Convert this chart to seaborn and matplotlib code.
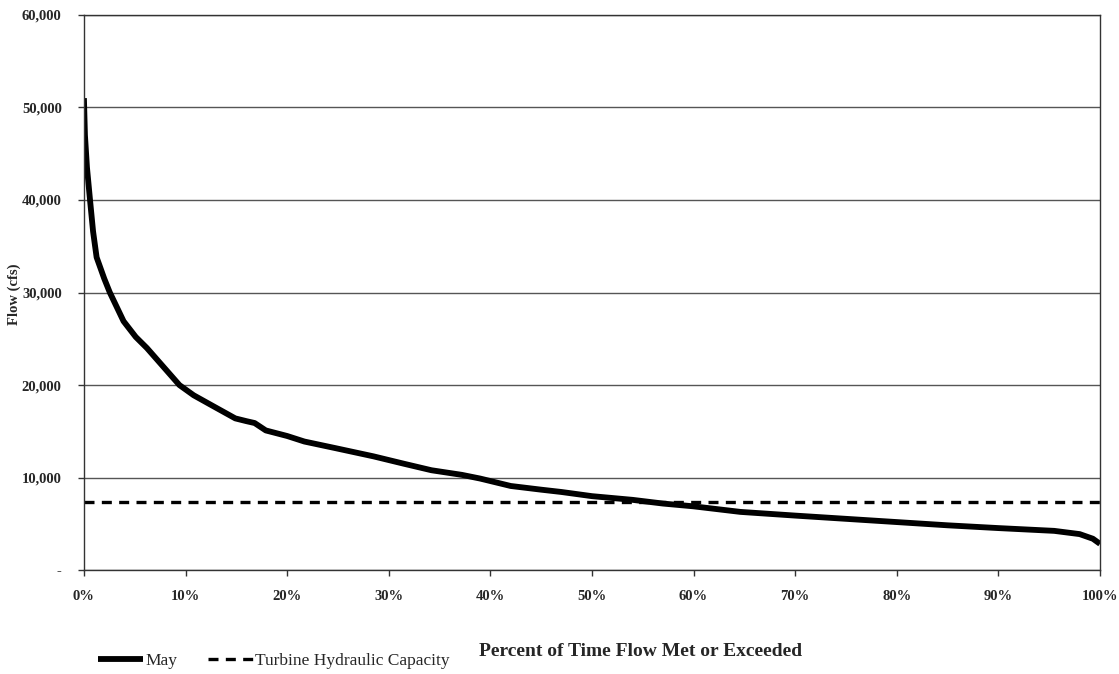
import matplotlib
matplotlib.use("Agg")
import matplotlib.pyplot as plt
import seaborn as sns
import pandas as pd

# ---- data ----
pct_exceeded = [0, 0.1, 0.3, 0.6, 0.9, 1.25, 2.0, 2.55, 3.9, 5.1, 6.2, 7.4, 9.4,
                10.8, 12.6, 14.9, 16.0, 16.8, 17.9, 20.0, 21.7, 24.7, 28.5, 31.5,
                34.2, 37.2, 39.0, 42.0, 45.0, 47.0, 50.0, 54.0, 57.0, 60.0, 64.6,
                70.0, 75.0, 80.0, 85.0, 90.0, 95.5, 98.0, 99.3, 100.0]
may_flow = [51000, 47000, 43500, 40000, 36600, 33800, 31500, 30000, 26900, 25200,
            24000, 22500, 20000, 18900, 17800, 16400, 16100, 15900, 15100, 14500,
            13900, 13200, 12300, 11500, 10800, 10300, 9900, 9100, 8700, 8450,
            8000, 7600, 7200, 6900, 6300, 5900, 5550, 5200, 4850, 4550, 4250,
            3900, 3400, 2850]
capacity_x = [0, 100]
turbine_capacity = 7400

series_names = ["May", "Turbine Hydraulic Capacity"]
xtick_values = [0, 10, 20, 30, 40, 50, 60, 70, 80, 90, 100]
xtick_labels = ["0%", "10%", "20%", "30%", "40%", "50%", "60%", "70%", "80%", "90%", "100%"]
ytick_values = [0, 10000, 20000, 30000, 40000, 50000, 60000]
ytick_labels = ["-", "10,000", "20,000", "30,000", "40,000", "50,000", "60,000"]
x_label = "Percent of Time Flow Met or Exceeded"
y_label = "Flow (cfs)"

df_may = pd.DataFrame({"pct": pct_exceeded, "flow": may_flow})
df_cap = pd.DataFrame({"pct": capacity_x, "flow": [turbine_capacity] * len(capacity_x)})

sns.set_theme(style="white")
plt.rcParams["font.family"] = ["Liberation Serif", "DejaVu Serif"]

fig = plt.figure(figsize=(11.19, 6.74), dpi=100)
ax = fig.add_axes([0.075, 0.154, 0.908, 0.824])

sns.lineplot(data=df_may, x="pct", y="flow", ax=ax, color="black", linewidth=4.2,
             label=series_names[0], solid_capstyle="butt")
sns.lineplot(data=df_cap, x="pct", y="flow", ax=ax, color="black", linewidth=2.4,
             linestyle=(0, (3, 2.2)), label=series_names[1])

ax.set_xlim(0, 100)
ax.set_ylim(0, 60000)
ax.set_xticks(xtick_values)
ax.set_xticklabels(xtick_labels, fontsize=10.5, fontweight="bold")
ax.set_yticks(ytick_values)
ax.set_yticklabels(ytick_labels, fontsize=10.5, fontweight="bold")
ax.tick_params(axis="x", direction="out", length=4, width=1, color="#333333",
               bottom=True, pad=10)
ax.tick_params(axis="y", direction="out", length=4, width=1, color="#333333",
               left=True, pad=12)

ax.yaxis.grid(True, color="#555555", linewidth=1.0, linestyle="-")
ax.xaxis.grid(False)
for side in ["left", "right", "top", "bottom"]:
    ax.spines[side].set_visible(True)
    ax.spines[side].set_color("#333333")
    ax.spines[side].set_linewidth(1.0)

ax.set_xlabel("")
ax.set_ylabel("")
fig.text(0.572, 0.034, x_label, fontsize=14, fontweight="bold",
         ha="center", va="center")
fig.text(0.0125, 0.564, y_label, fontsize=10.5, fontweight="bold", rotation=90,
         ha="center", va="center")

ax.legend_.remove()
handles, labels = ax.get_legend_handles_labels()
fig.legend(handles, labels, loc="center", bbox_to_anchor=(0.245, 0.02), ncol=2,
           frameon=False, fontsize=12.5, handlelength=2.6, columnspacing=1.8,
           handletextpad=0.1, borderpad=0.1)

fig.savefig("out.png", dpi=100)
